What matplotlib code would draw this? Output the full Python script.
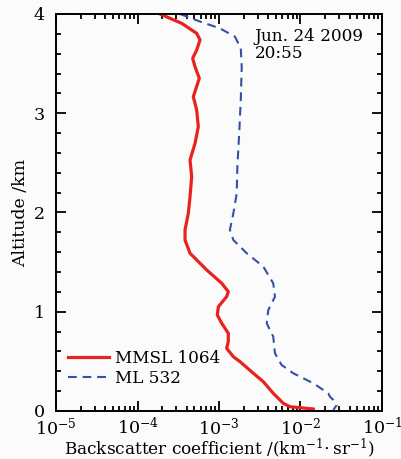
"""Backscatter coefficient profiles, MMSL 1064 vs ML 532 (Jun. 24 2009)."""

import matplotlib
matplotlib.use("Agg")
import matplotlib.pyplot as plt
from matplotlib.ticker import LogLocator, MultipleLocator, NullFormatter

# altitude (km) and backscatter coefficient (km^-1 sr^-1)
mmsl_alt = [4.0, 3.906, 3.805, 3.738, 3.637, 3.553, 3.469, 3.352, 3.167, 3.033,
            2.865, 2.697, 2.529, 2.361, 2.159, 1.992, 1.824, 1.723, 1.589, 1.421,
            1.287, 1.202, 1.152, 1.051, 0.967, 0.884, 0.783, 0.698, 0.632, 0.547,
            0.497, 0.380, 0.295, 0.178, 0.077, 0.043, 0.02]
mmsl_beta = [1.89e-4, 3.48e-4, 5.32e-4, 5.85e-4, 5.32e-4, 4.75e-4, 5.08e-4, 5.73e-4,
             4.84e-4, 5.32e-4, 5.57e-4, 5.08e-4, 4.41e-4, 4.62e-4, 4.41e-4, 4.20e-4,
             3.83e-4, 3.83e-4, 4.41e-4, 7.06e-4, 1.08e-3, 1.30e-3, 1.24e-3, 9.82e-4,
             9.53e-4, 1.08e-3, 1.30e-3, 1.30e-3, 1.24e-3, 1.50e-3, 1.81e-3, 2.64e-3,
             3.50e-3, 4.63e-3, 6.15e-3, 7.43e-3, 1.44e-2]

ml_alt = [4.0, 3.924, 3.855, 3.771, 3.654, 3.469, 3.134, 2.798, 2.461, 2.193,
          1.992, 1.824, 1.723, 1.589, 1.454, 1.287, 1.152, 1.018, 0.884, 0.749,
          0.581, 0.463, 0.380, 0.279, 0.178, 0.144, 0.111, 0.060, 0.01]
ml_beta = [3.32e-4, 5.85e-4, 1.03e-3, 1.57e-3, 1.85e-3, 1.90e-3, 1.85e-3, 1.77e-3,
           1.68e-3, 1.65e-3, 1.50e-3, 1.36e-3, 1.50e-3, 2.19e-3, 3.50e-3, 4.63e-3,
           4.86e-3, 4.03e-3, 3.85e-3, 4.63e-3, 4.86e-3, 5.87e-3, 8.17e-3, 1.44e-2,
           2.19e-2, 2.30e-2, 2.53e-2, 2.78e-2, 2.53e-2]

plt.rcParams["font.family"] = ["DejaVu Serif"]
plt.rcParams["mathtext.fontset"] = "dejavuserif"
plt.rcParams["font.size"] = 12

fig = plt.figure(figsize=(4.01, 4.59), dpi=100, facecolor="#fbfbfb")
ax = fig.add_axes([0.1397, 0.1046, 0.8129, 0.8649])
ax.set_facecolor("#fbfbfb")

ax.plot(mmsl_beta, mmsl_alt, color="#e8231f", lw=2.3, label="MMSL 1064")
ax.plot(ml_beta, ml_alt, color="#3550a5", lw=1.5, dashes=(4.2, 2.8), label="ML 532")

ax.set_xscale("log")
ax.set_xlim(1e-5, 1e-1)
ax.set_ylim(0, 4)
ax.xaxis.set_major_locator(LogLocator(base=10, numticks=10))
ax.xaxis.set_minor_locator(LogLocator(base=10, subs=range(2, 10), numticks=20))
ax.xaxis.set_minor_formatter(NullFormatter())
ax.yaxis.set_major_locator(MultipleLocator(1))
ax.yaxis.set_minor_locator(MultipleLocator(0.2))

ax.tick_params(which="both", direction="in", top=True, right=True, width=1.3)
ax.tick_params(which="major", length=7.5, labelsize=12.6)
ax.tick_params(axis="x", which="major", pad=4)
ax.tick_params(axis="y", which="major", pad=8)
ax.tick_params(which="minor", length=3.8)
for s in ax.spines.values():
    s.set_linewidth(1.4)

ax.set_xlabel(r"Backscatter coefficient /(km$^{-1}\!\cdot$sr$^{-1}$)", fontsize=12.2, labelpad=-1.5)
ax.set_ylabel("Altitude /km", fontsize=12.5, labelpad=3)

ax.text(0.61, 0.965, "Jun. 24 2009\n20:55", transform=ax.transAxes,
        ha="left", va="top", fontsize=12.2, linespacing=1.0)

ax.legend(loc="lower left", bbox_to_anchor=(0.0, 0.03), frameon=False,
          fontsize=12.2, handlelength=2.4, handletextpad=0.4,
          labelspacing=0.2, borderaxespad=0.3)

fig.savefig("out.png", dpi=100, facecolor=fig.get_facecolor())
